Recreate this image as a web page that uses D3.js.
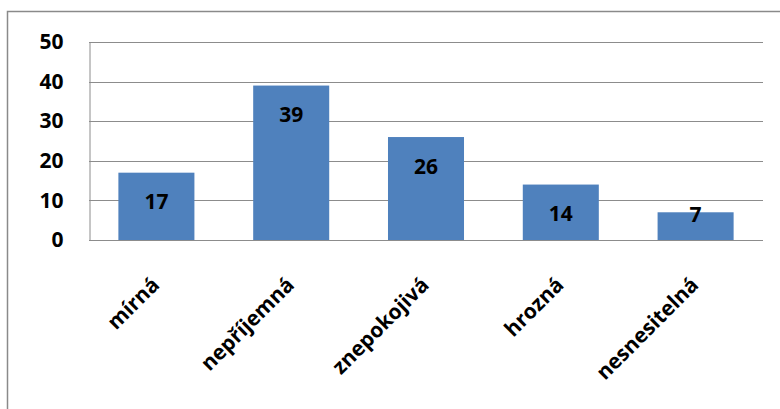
<!DOCTYPE html>
<html>
<head>
<meta charset="utf-8">
<script src="https://cdn.jsdelivr.net/npm/d3@7"></script>
<style>
  body { margin: 0; background: #fff; }
  text { font-family: "Open Sans", sans-serif; font-weight: bold; fill: #000; }
</style>
</head>
<body>
<svg id="chart" width="780" height="409"></svg>
<script>
// data
const categories = ["mírná", "nepříjemná", "znepokojivá", "hrozná", "nesnesitelná"];
const values = [17, 39, 26, 14, 7];
const yTicks = [0, 10, 20, 30, 40, 50];

const svg = d3.select("#chart");
const plot = { left: 89, right: 763, top: 42, bottom: 240 };

// outer frame (right and bottom edges run off the picture)
svg.append("rect")
  .attr("x", 7.5).attr("y", 11.5)
  .attr("width", 800).attr("height", 420)
  .attr("fill", "none").attr("stroke", "#8a8a8a").attr("stroke-width", 1.5);

const x = d3.scaleBand()
  .domain(categories)
  .range([plot.left, plot.right])
  .paddingInner(0.436)
  .paddingOuter(0.218);

const y = d3.scaleLinear().domain([0, 50]).range([plot.bottom, plot.top]);

// gridlines
svg.append("g")
  .selectAll("line")
  .data(yTicks)
  .join("line")
  .attr("x1", plot.left).attr("x2", plot.right)
  .attr("y1", d => Math.round(y(d)) + 0.5).attr("y2", d => Math.round(y(d)) + 0.5)
  .attr("stroke", "#8c8c8c").attr("stroke-width", 1);

// y axis
const yAxis = svg.append("g")
  .attr("transform", `translate(${plot.left + 0.5},0)`)
  .call(d3.axisLeft(y).tickValues(yTicks).tickSize(0).tickPadding(26));
yAxis.select(".domain").attr("stroke", "#8c8c8c");
yAxis.selectAll("text").attr("font-size", 21).attr("fill", "#000")
  .style("font-family", "'Open Sans', sans-serif").style("font-weight", "bold");

// bars
svg.append("g")
  .selectAll("rect")
  .data(values)
  .join("rect")
  .attr("x", (d, i) => x(categories[i]))
  .attr("y", d => y(d))
  .attr("width", x.bandwidth())
  .attr("height", d => y(0) - y(d))
  .attr("fill", "#4f81bd");

// bar labels
svg.append("g")
  .selectAll("text")
  .data(values)
  .join("text")
  .attr("x", (d, i) => x(categories[i]) + x.bandwidth() / 2)
  .attr("y", d => Math.min(y(d) + 29, y(0) - 26))
  .attr("dy", "0.36em")
  .attr("text-anchor", "middle")
  .attr("font-size", 21)
  .text(d => d);

// x axis line
svg.append("line")
  .attr("x1", plot.left).attr("x2", plot.right)
  .attr("y1", plot.bottom + 0.5).attr("y2", plot.bottom + 0.5)
  .attr("stroke", "#8c8c8c");

// category labels, rotated
svg.append("g")
  .selectAll("text")
  .data(categories)
  .join("text")
  .attr("transform", d => `translate(${x(d) + x.bandwidth() / 2 - 1},${plot.bottom + 41}) rotate(-45)`)
  .attr("text-anchor", "end")
  .attr("dy", "0.35em")
  .attr("font-size", 21)
  .text(d => d);
</script>
</body>
</html>
